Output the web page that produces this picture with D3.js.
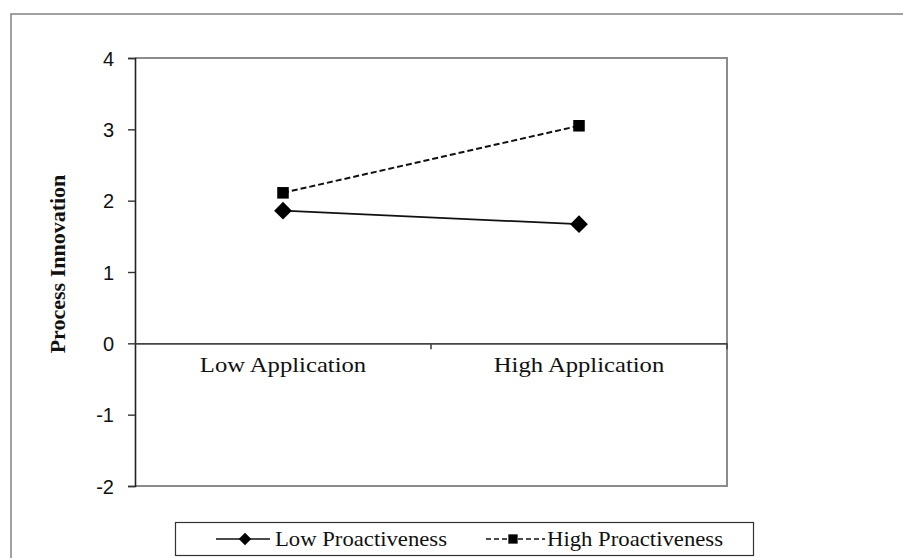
<!DOCTYPE html>
<html><head><meta charset="utf-8">
<script src="https://cdn.jsdelivr.net/npm/d3@7"></script>
<style>
html,body{margin:0;padding:0;background:#fff;}
svg{display:block;}
</style></head>
<body>
<svg id="chart" width="903" height="558"></svg>
<script>
// ---- data ----
const categories = ["Low Application", "High Application"];
const seriesNames = ["Low Proactiveness", "High Proactiveness"];
const lowProactiveness = [1.86, 1.67];
const highProactiveness = [2.11, 3.05];
const yTicks = [-2, -1, 0, 1, 2, 3, 4];
const yTitle = "Process Innovation";

const svg = d3.select("#chart");
const M = {left: 135, right: 727, top: 58, bottom: 486};
const serif = "'Liberation Serif','Times New Roman',serif";
const sans = "'Liberation Sans',Arial,sans-serif";
const stretch = 1.12;

// outer frame
svg.append("rect").attr("x", 11).attr("y", 14).attr("width", 1000).attr("height", 1000)
  .attr("fill", "none").attr("stroke", "#8a8a8a").attr("stroke-width", 1.6);

const x = d3.scaleBand().domain(categories).range([M.left, M.right]).padding(0);
const y = d3.scaleLinear().domain([-2, 4]).range([M.bottom, M.top]);

// plot frame (top, right, bottom)
svg.append("path")
  .attr("d", `M${M.left},${y(4)}H${M.right}V${y(-2)}H${M.left}`)
  .attr("fill", "none").attr("stroke", "#8c8c8c").attr("stroke-width", 2);

// y axis
const yAxis = svg.append("g").attr("transform", `translate(${M.left},0)`)
  .call(d3.axisLeft(y).tickValues(yTicks).tickSize(7).tickPadding(14).tickFormat(d => String(d)));
yAxis.attr("font-size", null).attr("font-family", null);
yAxis.select(".domain").attr("stroke", "#222").attr("stroke-width", 1.6);
yAxis.selectAll(".tick line").attr("stroke", "#333").attr("stroke-width", 1.4);
yAxis.selectAll(".tick text").style("font-family", sans).style("font-size", "20px").attr("fill", "#111")
  .attr("dy", "0.36em");

// zero category axis
const xAxis = svg.append("g").attr("transform", `translate(0,${y(0)})`)
  .call(d3.axisBottom(x).tickSize(0).tickPadding(22));
xAxis.attr("font-size", null).attr("font-family", null);
xAxis.select(".domain").attr("stroke", "#444").attr("stroke-width", 1.6);
xAxis.selectAll(".tick text").style("font-family", serif).style("font-size", "22px").attr("fill", "#111")
  .attr("dy", "0.3em")
  .each(function(){ const l = this.getComputedTextLength(); d3.select(this).attr("textLength", l*stretch).attr("lengthAdjust","spacingAndGlyphs"); });
// boundary ticks
svg.append("g").selectAll("line").data(categories).join("line")
  .attr("x1", d => x(d) + x.bandwidth()).attr("x2", d => x(d) + x.bandwidth())
  .attr("y1", y(0)).attr("y2", y(0) + 6)
  .attr("stroke", "#444").attr("stroke-width", 1.6);

// y title
svg.append("text").attr("transform", `translate(57,${(y(4)+y(-2))/2 - 8}) rotate(-90)`)
  .attr("text-anchor", "middle").attr("dominant-baseline", "central")
  .style("font-family", serif).attr("font-weight", "bold").style("font-size", "22px").attr("fill", "#111")
  .text(yTitle);

// series
const cx = d => x(d) + x.bandwidth() / 2;
const line = d3.line().x((d, i) => cx(categories[i])).y(d => y(d));
const diamond = d3.symbol().type(d3.symbolDiamond2);
const square = d3.symbol().type(d3.symbolSquare2);

svg.append("path").datum(lowProactiveness).attr("d", line)
  .attr("fill", "none").attr("stroke", "#111").attr("stroke-width", 1.8);
svg.append("path").datum(highProactiveness).attr("d", line)
  .attr("fill", "none").attr("stroke", "#111").attr("stroke-width", 2).attr("stroke-dasharray", "6,3");

svg.append("g").selectAll("path").data(lowProactiveness).join("path")
  .attr("transform", (d, i) => `translate(${cx(categories[i])},${y(d)})`)
  .attr("d", diamond.size(200)).attr("fill", "#000");
svg.append("g").selectAll("path").data(highProactiveness).join("path")
  .attr("transform", (d, i) => `translate(${cx(categories[i])},${y(d)})`)
  .attr("d", square.size(170)).attr("fill", "#000");

// legend
const lg = svg.append("g");
lg.append("rect").attr("x", 175.5).attr("y", 522.5).attr("width", 578).attr("height", 33)
  .attr("fill", "#fff").attr("stroke", "#333").attr("stroke-width", 1.2);
const ly = 539;
// item 1
lg.append("line").attr("x1", 216).attr("x2", 270).attr("y1", ly).attr("y2", ly)
  .attr("stroke", "#111").attr("stroke-width", 1.6);
lg.append("path").attr("transform", `translate(245,${ly})`).attr("d", d3.symbol().type(d3.symbolDiamond2).size(100)()).attr("fill", "#000");
lg.append("text").attr("x", 275).attr("y", ly).attr("dy", "0.34em")
  .style("font-family", serif).style("font-size", "22px").attr("fill", "#111").text(seriesNames[0])
  .attr("textLength", 172).attr("lengthAdjust","spacingAndGlyphs");
// item 2
lg.append("line").attr("x1", 486).attr("x2", 545).attr("y1", ly).attr("y2", ly)
  .attr("stroke", "#111").attr("stroke-width", 1.6).attr("stroke-dasharray", "5,3");
lg.append("path").attr("transform", `translate(513,${ly})`).attr("d", d3.symbol().type(d3.symbolSquare2).size(110)()).attr("fill", "#000");
lg.append("text").attr("x", 547).attr("y", ly).attr("dy", "0.34em")
  .style("font-family", serif).style("font-size", "22px").attr("fill", "#111").text(seriesNames[1])
  .attr("textLength", 176).attr("lengthAdjust","spacingAndGlyphs");
</script>
</body></html>
